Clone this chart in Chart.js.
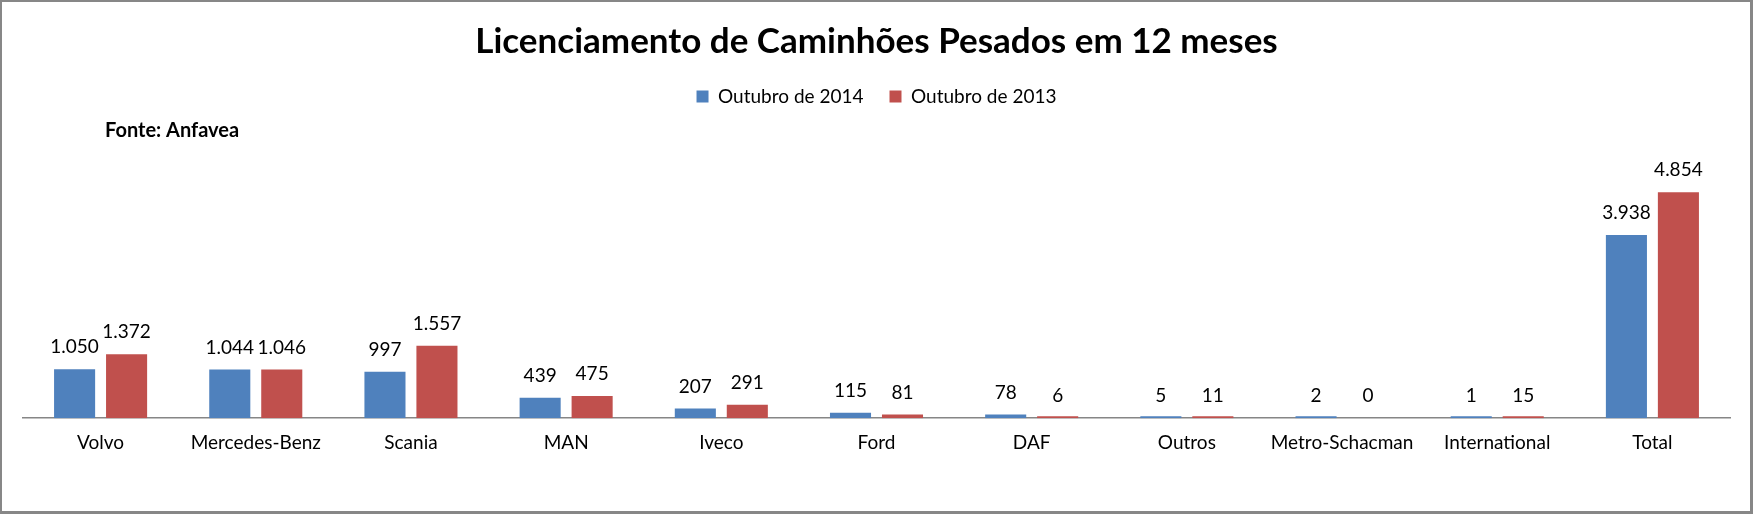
<!DOCTYPE html>
<html>
<head>
<meta charset="utf-8">
<script src="https://cdn.jsdelivr.net/npm/chart.js@4.4.0/dist/chart.umd.min.js"></script>
<style>
  html, body { margin: 0; padding: 0; background: #fff; }
  #wrap { position: relative; width: 1753px; height: 514px; }
  #c { position: absolute; left: 0; top: 0; }
  #frame { position: absolute; left: 0; top: 0; width: 1753px; height: 514px; box-sizing: border-box;
           border-style: solid; border-color: #878787; border-width: 2px 3px 3px 2px; pointer-events: none; }
</style>
</head>
<body>
<div id="wrap">
  <canvas id="c" width="1753" height="514"></canvas>
  <div id="frame"></div>
</div>
<script>
const categories = ['Volvo', 'Mercedes-Benz', 'Scania', 'MAN', 'Iveco', 'Ford', 'DAF', 'Outros', 'Metro-Schacman', 'International', 'Total'];
const seriesNames = ['Outubro de 2014', 'Outubro de 2013'];
const out2014 = [1050, 1044, 997, 439, 207, 115, 78, 5, 2, 1, 3938];
const out2013 = [1372, 1046, 1557, 475, 291, 81, 6, 11, 0, 15, 4854];
const titleText = 'Licenciamento de Caminhões Pesados em 12 meses';
const sourceText = 'Fonte: Anfavea';

const FONT = 'Lato, "Open Sans", sans-serif';
const BLUE = '#4F81BD';
const RED = '#C0504D';

function fmt(v) {
  return String(v).replace(/\B(?=(\d{3})+(?!\d))/g, '.');
}

const legendGap = {
  id: 'legendGap',
  beforeUpdate(chart) {
    const lg = chart.legend;
    if (lg && !lg._gapPatched) {
      const fit = lg.fit;
      lg.fit = function () { fit.call(this); this.height += 23; };
      lg._gapPatched = true;
    }
  }
};

const valueLabels = {
  id: 'valueLabels',
  afterDatasetsDraw(chart) {
    const ctx = chart.ctx;
    const yScale = chart.scales.y;
    ctx.save();
    ctx.font = '19px ' + FONT;
    ctx.fillStyle = '#000';
    ctx.textAlign = 'center';
    ctx.textBaseline = 'middle';
    chart.data.datasets.forEach((ds, di) => {
      const meta = chart.getDatasetMeta(di);
      meta.data.forEach((bar, i) => {
        const v = ds.data[i];
        ctx.fillText(fmt(v), bar.x, yScale.getPixelForValue(v) - 22);
      });
    });
    ctx.restore();
  }
};

const sourceNote = {
  id: 'sourceNote',
  afterDraw(chart) {
    const ctx = chart.ctx;
    ctx.save();
    ctx.font = 'bold 20px ' + FONT;
    ctx.fillStyle = '#000';
    ctx.textAlign = 'left';
    ctx.textBaseline = 'alphabetic';
    ctx.fillText(sourceText, 105, 137);
    ctx.restore();
  }
};

function colorFor(base) {
  return (c) => (c.raw === 0 ? 'rgba(0,0,0,0)' : base);
}

new Chart(document.getElementById('c'), {
  type: 'bar',
  data: {
    labels: categories,
    datasets: [
      { label: seriesNames[0], data: out2014, backgroundColor: colorFor(BLUE), minBarLength: 2,
        categoryPercentage: 0.67, barPercentage: 0.79 },
      { label: seriesNames[1], data: out2013, backgroundColor: colorFor(RED), minBarLength: 2,
        categoryPercentage: 0.67, barPercentage: 0.79 }
    ]
  },
  options: {
    responsive: false,
    animation: false,
    devicePixelRatio: 1,
    layout: { padding: { left: 23, right: 23, top: 0, bottom: 47 } },
    plugins: {
      title: {
        display: true, text: titleText, color: '#000',
        font: { family: FONT, size: 35, weight: 'bold', lineHeight: 1 },
        padding: { top: 24, bottom: 2 }
      },
      legend: {
        display: true, position: 'top',
        labels: {
          color: '#000', boxWidth: 12, boxHeight: 12, padding: 26,
          font: { family: FONT, size: 19 },
          generateLabels(chart) {
            return chart.data.datasets.map((ds, i) => ({
              text: ds.label, fillStyle: i === 0 ? BLUE : RED, strokeStyle: 'rgba(0,0,0,0)',
              lineWidth: 0, hidden: false, datasetIndex: i, fontColor: '#000'
            }));
          }
        }
      },
      tooltip: { enabled: false }
    },
    scales: {
      x: {
        grid: { display: false, drawTicks: false },
        border: { display: true, color: '#868686', width: 1.5 },
        ticks: { color: '#000', font: { family: FONT, size: 19 }, padding: 13, maxRotation: 0, autoSkip: false }
      },
      y: { display: false, min: 0, max: 6000 }
    }
  },
  plugins: [legendGap, valueLabels, sourceNote]
});
</script>
</body>
</html>
